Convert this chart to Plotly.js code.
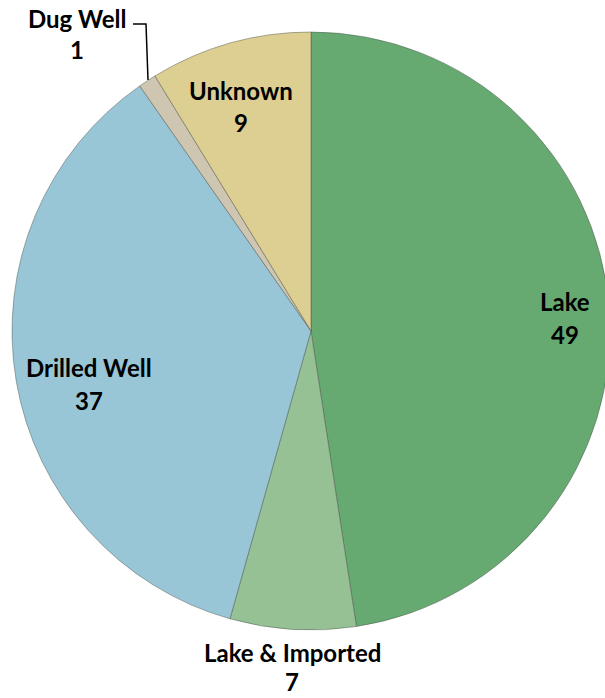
<!DOCTYPE html>
<html>
<head>
<meta charset="utf-8">
<script src="https://cdn.plot.ly/plotly-3.0.1.min.js"></script>
<style>
html,body{margin:0;padding:0;overflow:hidden;background:#fff;}
#chart{width:610px;height:698px;}
</style>
</head>
<body>
<div id="chart"></div>
<script>
// Data
const categories = ["Lake", "Lake & Imported", "Drilled Well", "Dug Well", "Unknown"];
const values = [49, 7, 37, 1, 9];
const colors = ["#66aa71", "#96c195", "#98c6d6", "#cec6b0", "#dccf91"];

// Layout geometry
const W = 610, H = 698;
const M = {l: 12, r: 0, t: 32, b: 68};
const PW = W - M.l - M.r, PH = H - M.t - M.b;
function px(x){ return (x - M.l) / PW; }
function py(y){ return 1 - (y - M.t) / PH; }

// label pixel positions (x centre, name line centre y, value line centre y)
const labelPos = [
  [565, 302, 334],
  [292, 652, 681],
  [89, 367, 400],
  [77, 18, 50],
  [241, 90, 122]
];

const font = {family: "Lato, 'Open Sans', sans-serif", size: 24, color: "#000", weight: 700};
const annotations = [];
categories.forEach((c, i) => {
  const p = labelPos[i];
  annotations.push({xref: "paper", yref: "paper", x: px(p[0]), y: py(p[1]), text: "<b>" + c + "</b>",
    showarrow: false, xanchor: "center", yanchor: "middle", font: font});
  annotations.push({xref: "paper", yref: "paper", x: px(p[0]), y: py(p[2]), text: "<b>" + values[i] + "</b>",
    showarrow: false, xanchor: "center", yanchor: "middle", font: font});
});

const shapes = [{
  type: "path", xref: "paper", yref: "paper",
  path: "M " + px(133) + " " + py(24) + " L " + px(146) + " " + py(24) + " L " + px(148) + " " + py(80),
  line: {color: "#000", width: 1.5}
}];

const trace = {
  type: "pie",
  labels: categories,
  values: values,
  sort: false,
  direction: "clockwise",
  rotation: 0,
  textinfo: "none",
  hoverinfo: "label+value",
  marker: {colors: colors, line: {color: "rgba(70,80,75,0.45)", width: 1}},
  domain: {x: [0, 1], y: [0, 1]}
};

const layout = {
  width: W, height: H,
  margin: M,
  showlegend: false,
  paper_bgcolor: "#fff",
  annotations: annotations,
  shapes: shapes
};

Plotly.newPlot("chart", [trace], layout, {displayModeBar: false, staticPlot: true});
</script>
</body>
</html>
